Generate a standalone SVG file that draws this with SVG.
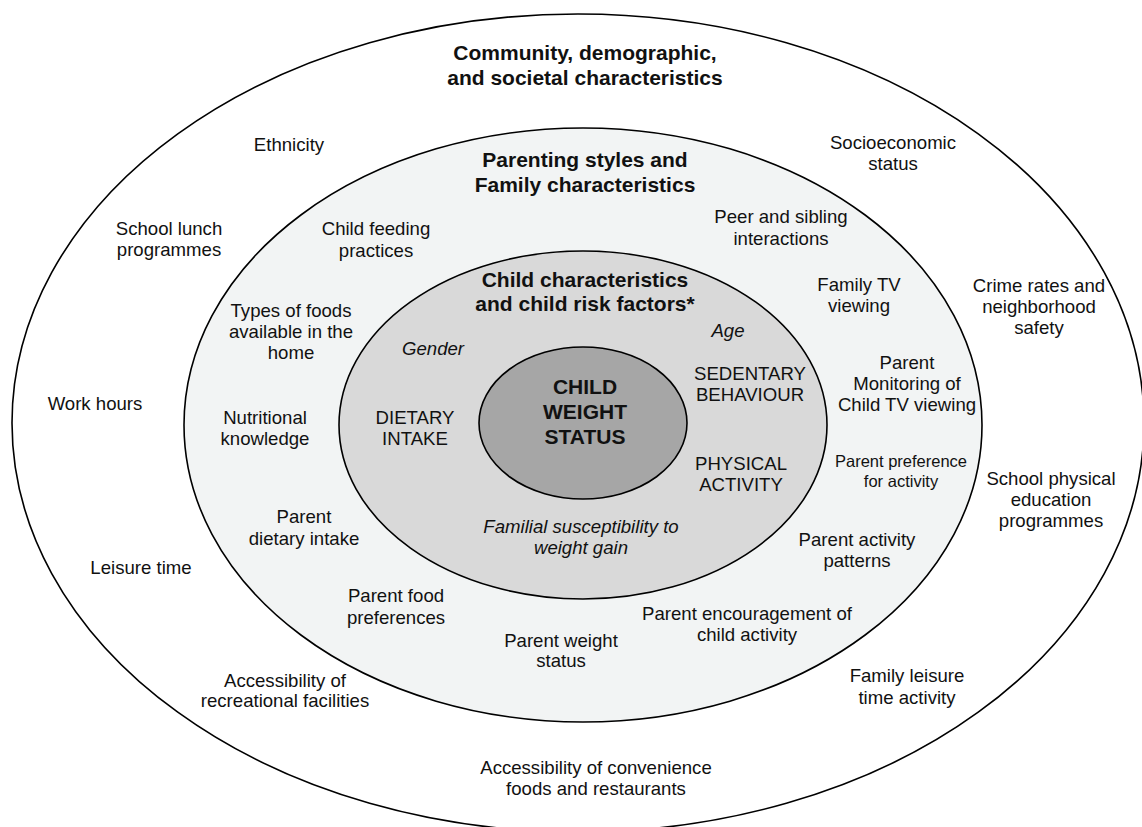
<svg xmlns="http://www.w3.org/2000/svg" width="1142" height="827" viewBox="0 0 1142 827">
  <style>
    text { font-family: "Liberation Sans", Arial, sans-serif; fill: #111; text-anchor: middle; }
    .lbl { font-size: 18.6px; }
    .sm { font-size: 16.5px; }
    .it { font-size: 18.6px; font-style: italic; }
    .hd { font-size: 21px; font-weight: bold; }
    .core { font-size: 21px; font-weight: bold; }
    .ring { stroke: #000; stroke-width: 1.6; }
  </style>

  <rect width="1142" height="827" fill="#ffffff"/>

  <!-- Outer ring: community, demographic and societal level -->
  <g id="community">
    <ellipse class="ring" cx="578" cy="423" rx="566" ry="409" fill="#ffffff"/>
    <text class="hd" x="585" y="60">Community, demographic,</text>
    <text class="hd" x="585" y="85">and societal characteristics</text>
    <text class="lbl" x="289" y="151">Ethnicity</text>
    <text class="lbl" x="893" y="149">Socioeconomic</text>
    <text class="lbl" x="893" y="170">status</text>
    <text class="lbl" x="169" y="235">School lunch</text>
    <text class="lbl" x="169" y="256">programmes</text>
    <text class="lbl" x="1039" y="292">Crime rates and</text>
    <text class="lbl" x="1039" y="313">neighborhood</text>
    <text class="lbl" x="1039" y="334">safety</text>
    <text class="lbl" x="95" y="410">Work hours</text>
    <text class="lbl" x="1051" y="485">School physical</text>
    <text class="lbl" x="1051" y="506">education</text>
    <text class="lbl" x="1051" y="527">programmes</text>
    <text class="lbl" x="141" y="574">Leisure time</text>
    <text class="lbl" x="285" y="687">Accessibility of</text>
    <text class="lbl" x="285" y="707">recreational facilities</text>
    <text class="lbl" x="907" y="682">Family leisure</text>
    <text class="lbl" x="907" y="704">time activity</text>
    <text class="lbl" x="596" y="774">Accessibility of convenience</text>
    <text class="lbl" x="596" y="795">foods and restaurants</text>
  </g>

  <!-- Middle ring: parenting styles and family characteristics -->
  <g id="family">
    <ellipse class="ring" cx="583" cy="425" rx="399" ry="297" fill="#f2f4f4"/>
    <text class="hd" x="585" y="167">Parenting styles and</text>
    <text class="hd" x="585" y="192">Family characteristics</text>
    <text class="lbl" x="376" y="235">Child feeding</text>
    <text class="lbl" x="376" y="257">practices</text>
    <text class="lbl" x="781" y="223">Peer and sibling</text>
    <text class="lbl" x="781" y="245">interactions</text>
    <text class="lbl" x="859" y="291">Family TV</text>
    <text class="lbl" x="859" y="312">viewing</text>
    <text class="lbl" x="291" y="317">Types of foods</text>
    <text class="lbl" x="291" y="338">available in the</text>
    <text class="lbl" x="291" y="359">home</text>
    <text class="lbl" x="907" y="369">Parent</text>
    <text class="lbl" x="907" y="390">Monitoring of</text>
    <text class="lbl" x="907" y="411">Child TV viewing</text>
    <text class="lbl" x="265" y="424">Nutritional</text>
    <text class="lbl" x="265" y="445">knowledge</text>
    <text class="sm" x="901" y="467">Parent preference</text>
    <text class="sm" x="901" y="487">for activity</text>
    <text class="lbl" x="304" y="523">Parent</text>
    <text class="lbl" x="304" y="545">dietary intake</text>
    <text class="lbl" x="857" y="546">Parent activity</text>
    <text class="lbl" x="857" y="567">patterns</text>
    <text class="lbl" x="396" y="602">Parent food</text>
    <text class="lbl" x="396" y="624">preferences</text>
    <text class="lbl" x="747" y="620">Parent encouragement of</text>
    <text class="lbl" x="747" y="641">child activity</text>
    <text class="lbl" x="561" y="647">Parent weight</text>
    <text class="lbl" x="561" y="667">status</text>
  </g>

  <!-- Inner ring: child characteristics and risk factors -->
  <g id="child">
    <ellipse class="ring" cx="583" cy="425" rx="244" ry="174" fill="#d9d9d9"/>
    <text class="hd" x="585" y="287">Child characteristics</text>
    <text class="hd" x="585" y="311">and child risk factors*</text>
    <text class="it" x="728" y="337">Age</text>
    <text class="it" x="433" y="355">Gender</text>
    <text class="lbl" x="750" y="380">SEDENTARY</text>
    <text class="lbl" x="750" y="401">BEHAVIOUR</text>
    <text class="lbl" x="415" y="424">DIETARY</text>
    <text class="lbl" x="415" y="445">INTAKE</text>
    <text class="lbl" x="741" y="470">PHYSICAL</text>
    <text class="lbl" x="741" y="491">ACTIVITY</text>
    <text class="it" x="581" y="533">Familial susceptibility to</text>
    <text class="it" x="581" y="554">weight gain</text>
  </g>

  <!-- Core: child weight status -->
  <g id="weight-status">
    <ellipse class="ring" cx="583" cy="423" rx="104" ry="76" fill="#a6a6a6"/>
    <text class="core" x="585" y="394">CHILD</text>
    <text class="core" x="585" y="419">WEIGHT</text>
    <text class="core" x="585" y="444">STATUS</text>
  </g>

  <!-- No connectors in this diagram -->
  <g id="connectors"/>
</svg>
